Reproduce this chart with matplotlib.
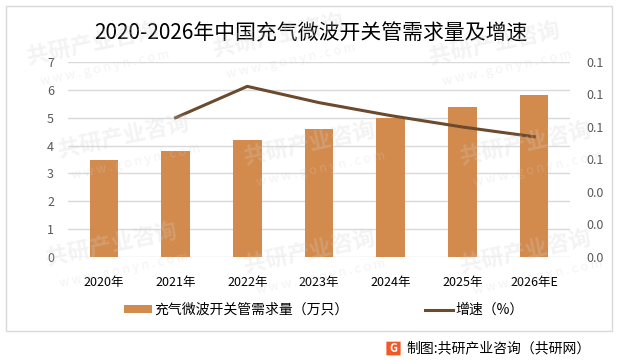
import matplotlib.pyplot as plt
from matplotlib.patches import Rectangle, FancyBboxPatch
from matplotlib.ticker import FormatStrFormatter, MultipleLocator

plt.rcParams['font.family'] = ['Noto Sans CJK SC', 'DejaVu Sans']

years = ["2020年", "2021年", "2022年", "2023年", "2024年", "2025年", "2026年E"]
demand = [3.5, 3.8, 4.2, 4.6, 5.0, 5.4, 5.8]
growth = [0.0857, 0.105, 0.095, 0.087, 0.080, 0.074]

bar_color = "#D38B4D"
line_color = "#6B4A2E"
grid_color = "#D9D9D9"
tick_color = "#595959"

W, H = 618, 360
fig = plt.figure(figsize=(W / 100, H / 100), dpi=100)
fig.patch.set_facecolor("white")

# outer frame
fig.add_artist(Rectangle((6 / W, 1 - 331 / H), 606 / W, 325 / H, transform=fig.transFigure,
                         fill=False, edgecolor="#D9D9D9", lw=1))

ax = fig.add_axes([68 / W, 1 - 257 / H, 502 / W, 195 / H])
ax.set_facecolor("none")
x = list(range(len(years)))
ax.bar(x, demand, width=0.4, color=bar_color, zorder=2, label="充气微波开关管需求量（万只）")
ax.set_xlim(-0.5, len(years) - 0.5)
ax.set_ylim(0, 7)
ax.yaxis.set_major_locator(MultipleLocator(1))
ax.grid(axis="y", color=grid_color, lw=1, zorder=0)
ax.set_xticks(x)
ax.set_xticklabels(years, fontsize=9, color="black")
for s in ax.spines.values():
    s.set_visible(False)
ax.tick_params(length=0, pad=14, axis="x")
ax.tick_params(length=0, pad=10, axis="y", labelsize=9, labelcolor=tick_color)

ax2 = ax.twinx()
ax2.plot(x[1:], growth, color=line_color, lw=2.2, zorder=3, label="增速（%）")
ax2.set_ylim(0, 0.12)
ax2.yaxis.set_major_locator(MultipleLocator(0.02))
ax2.yaxis.set_major_formatter(FormatStrFormatter("%.1f"))
for s in ax2.spines.values():
    s.set_visible(False)
ax2.tick_params(length=0, pad=12, labelsize=9, labelcolor=tick_color)

h1, l1 = ax.get_legend_handles_labels()
h2, l2 = ax2.get_legend_handles_labels()
fig.legend(h1 + h2, l1 + l2, loc="center", bbox_to_anchor=(324 / W, 1 - 310 / H), ncol=2,
           frameon=False, fontsize=10, handlelength=2.0, handleheight=0.5,
           columnspacing=5.5, handletextpad=0.2)

fig.text(311 / W, 1 - 33 / H, "2020-2026年中国充气微波开关管需求量及增速", fontsize=15,
         ha="center", va="center", color="black")

# footer with logo
fig.add_artist(FancyBboxPatch((387 / W, 1 - 355 / H), 13 / W, 13 / H, boxstyle="round,pad=0.001",
                              transform=fig.transFigure, facecolor="#F05A28", edgecolor="none"))
fig.text(393.5 / W, 1 - 348.5 / H, "G", fontsize=8, fontweight="bold", color="white",
         ha="center", va="center")
fig.text(406 / W, 1 - 348 / H, "制图:共研产业咨询（共研网）", fontsize=10, ha="left", va="center",
         color="black")

# faint watermarks laid over the chart
for wx, wy in [(0.15, 0.88), (0.45, 0.9), (0.8, 0.88), (0.2, 0.62), (0.5, 0.6),
               (0.85, 0.6), (0.18, 0.32), (0.5, 0.3), (0.85, 0.3)]:
    fig.text(wx, wy, "共研产业咨询", fontsize=16, fontweight="bold", color="#D0D0D0",
             alpha=0.25, rotation=12, ha="center", va="center", zorder=10)
    fig.text(wx + 0.02, wy - 0.07, "w w w . g o n y n . c o m", fontsize=9, color="#D0D0D0",
             alpha=0.25, rotation=12, ha="center", va="center", zorder=10)

fig.savefig("out.png", dpi=100)
